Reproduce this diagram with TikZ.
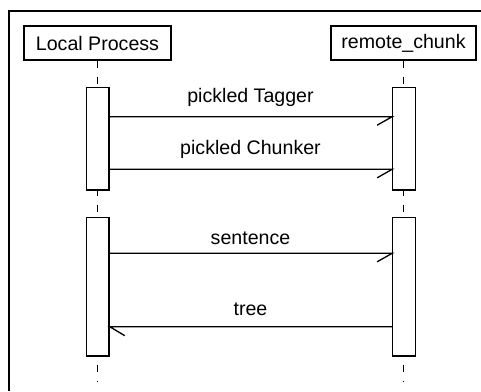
\documentclass[tikz,border=0pt]{standalone}
\usepackage{fontspec}
\setmainfont{Liberation Sans}
\begin{document}
\begin{tikzpicture}[x=0.5pt,y=-0.5pt,
  line width=0.65pt,
  font=\fontsize{9.8pt}{11pt}\selectfont,
  head/.style={draw, minimum height=17pt, inner sep=0pt, line width=0.65pt},
  act/.style={draw, fill=white, minimum width=11.2pt, inner sep=0pt, line width=0.65pt},
  life/.style={dash pattern=on 3.5pt off 4.5pt, line width=0.75pt},
  msg/.style={line width=0.65pt},
  lbl/.style={inner sep=0pt}]
\useasboundingbox (0,0) rectangle (481,391);
% frame
\draw[line width=0.9pt] (9,391) -- (9,11) -- (481,11);
% heads
\node[head, minimum width=73.5pt] (lp) at (97.5,43) {Local Process};
\node[head, minimum width=72.5pt] (rc) at (403.5,43) {remote\_chunk};
% lifeline ends
\coordinate (lpend) at (97.5,382);
\coordinate (rcend) at (403.5,382);
\draw[life] (lp.south) -- (lpend);
\draw[life] (rc.south) -- (rcend);
% activations
\node[act, minimum height=51.2pt] (a1) at (97.9,138.9) {};
\node[act, minimum height=51.2pt] (b1) at (404,138.9) {};
\node[act, minimum height=69.2pt] (a2) at (97.9,286.9) {};
\node[act, minimum height=69.2pt] (b2) at (404,286.9) {};
% message levels
\coordinate (m1) at (0,116.7);
\coordinate (m2) at (0,169.3);
\coordinate (m3) at (0,253.3);
\coordinate (m4) at (0,326.7);
\draw[msg] (a1.east |- m1) -- (b1.west |- m1) -- ++(-15,8.5);
\draw[msg] (a1.east |- m2) -- (b1.west |- m2) -- ++(-15,8.5);
\draw[msg] (a2.east |- m3) -- (b2.west |- m3) -- ++(-15,8.5);
\draw[msg] (b2.west |- m4) -- (a2.east |- m4) -- ++(15,9);
% labels
\node[lbl] (t1) at (250.5,97) {pickled Tagger};
\node[lbl] (t2) at (250.5,149) {pickled Chunker};
\node[lbl] (t3) at (250.5,238) {sentence};
\node[lbl] (t4) at (250.5,309) {tree};
\end{tikzpicture}
\end{document}
